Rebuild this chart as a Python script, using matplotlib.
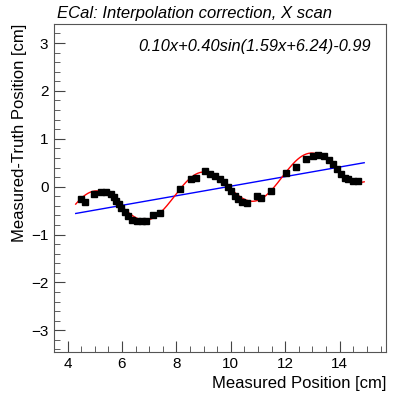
import numpy as np
import matplotlib
matplotlib.use('Agg')
import matplotlib.pyplot as plt
from matplotlib.ticker import MultipleLocator

plt.rcParams['font.family'] = ['Liberation Sans', 'DejaVu Sans']

# measured position [cm] and measured-truth residual [cm]
pos = [4.50, 4.65, 4.99, 5.24, 5.42, 5.58, 5.70, 5.79, 5.89, 5.97, 6.10, 6.22,
       6.38, 6.55, 6.74, 6.87, 7.14, 7.38, 8.12, 8.52, 8.73, 9.06, 9.22, 9.40,
       9.59, 9.74, 9.90, 10.02, 10.14, 10.26, 10.42, 10.59, 10.96, 11.12, 11.47,
       12.02, 12.40, 12.75, 13.01, 13.22, 13.42, 13.59, 13.76, 13.91, 14.05,
       14.20, 14.30, 14.49, 14.67]
resid = [-0.26, -0.31, -0.15, -0.11, -0.12, -0.15, -0.21, -0.29, -0.37, -0.44,
         -0.53, -0.62, -0.70, -0.72, -0.72, -0.71, -0.60, -0.54, -0.05, 0.16,
         0.19, 0.33, 0.27, 0.22, 0.17, 0.09, 0.00, -0.09, -0.19, -0.26, -0.33,
         -0.34, -0.20, -0.24, -0.10, 0.29, 0.42, 0.57, 0.65, 0.66, 0.63, 0.56,
         0.47, 0.37, 0.27, 0.19, 0.15, 0.11, 0.11]

# fit parameters: p0*x + p1*sin(p2*x + p3) + p4
p0, p1, p2, p3, p4 = 0.10, 0.40, 1.59, 6.24, -0.99
fit_range = (4.3, 14.9)

fig = plt.figure(figsize=(4.15, 3.98), dpi=100)
ax = fig.add_axes([0.130, 0.116, 0.800, 0.824])

xx = np.linspace(fit_range[0], fit_range[1], 400)
ax.plot(xx, p0 * xx + p4, color='blue', lw=1.0)
ax.plot(xx, p0 * xx + p1 * np.sin(p2 * xx + p3) + p4, color='red', lw=1.0)
ax.plot(pos, resid, 's', color='black', ms=4.2)

ax.set_xlim(3.5, 15.7)
ax.set_ylim(-3.45, 3.4)
ax.xaxis.set_major_locator(MultipleLocator(2))
ax.xaxis.set_minor_locator(MultipleLocator(0.5))
ax.yaxis.set_major_locator(MultipleLocator(1))
ax.yaxis.set_minor_locator(MultipleLocator(0.2))
ax.tick_params(which='both', direction='in', top=False, right=False,
               labelsize=11, color='#444444', pad=4)
ax.tick_params(which='major', length=8)
ax.tick_params(which='minor', length=4)
for s in ax.spines.values():
    s.set_color('#555555')

ax.set_xlabel('Measured Position [cm]', fontsize=12, loc='right', labelpad=3)
ax.set_ylabel('Measured-Truth Position [cm]', fontsize=12, loc='top', labelpad=3)
ax.set_title('ECal: Interpolation correction, X scan', fontsize=12,
             style='italic', loc='left', pad=4, x=0.01)
ax.text(0.955, 0.93, '0.10x+0.40sin(1.59x+6.24)-0.99', transform=ax.transAxes,
        ha='right', va='center', style='italic', fontsize=11.8)

fig.savefig('out.png', dpi=100)
